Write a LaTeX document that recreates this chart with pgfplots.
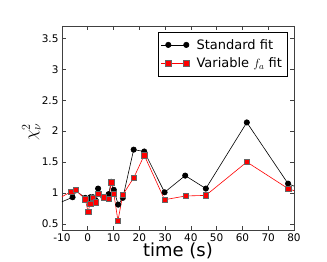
\documentclass[border=0pt]{standalone}
\usepackage{fontspec}
\setmainfont{DejaVu Sans}
\usepackage{pgfplots}
\pgfplotsset{compat=1.18}
\begin{document}
\begin{tikzpicture}
\useasboundingbox (-62pt,-32pt) rectangle (265pt,230pt);
\begin{axis}[
  scale only axis,
  width=232pt, height=204pt,
  xmin=-10, xmax=80, ymin=0.4, ymax=3.7,
  xtick={-10,0,...,80},
  ytick={0.5,1,1.5,2,2.5,3,3.5},
  yticklabels={0.5,1,1.5,2,2.5,3,3.5},
  /pgf/number format/assume math mode=true,
  tick label style={font=\fontsize{10.5}{12}\selectfont},
  tick align=inside,
  major tick length=4pt,
  axis line style={black!75, line width=0.8pt},
  tick style={black!75, line width=0.6pt},
  xlabel={time (s)},
  xlabel style={at={(axis description cs:0.5,0)}, anchor=base, yshift=-27pt, font=\fontsize{18}{20}\selectfont},
  ylabel={$\chi^2_\nu$},
  ylabel style={at={(axis description cs:-0.132,0.48)}, anchor=center, font=\fontsize{17}{20}\selectfont},
  legend style={at={(0.971,0.971)}, anchor=north east, draw=black, line width=0.6pt,
    font=\fontsize{13}{15}\selectfont, row sep=3pt, inner xsep=3pt, inner ysep=5pt,
    /tikz/every odd column/.append style={column sep=5pt}},
  legend cell align=left,
  legend image code/.code={\path (0pt,0pt) -- (28pt,0pt); \draw[#1] plot coordinates {(7pt,0pt) (25pt,0pt)};},
]
\addplot[black, line width=0.6pt, mark=*, mark size=2.7pt, mark options={fill=black, draw=black}] coordinates {
(-14,0.785) (-5.9,0.93) (-4.8,1.04) (-1.0,0.92) (0.1,0.90) (1.0,0.93) (2.0,0.93) (3.0,0.88)
(4.0,1.07) (6.1,0.93) (8.1,0.98) (9.1,1.18) (10.1,1.05) (11.8,0.81) (13.6,0.92)
(17.8,1.70) (21.9,1.67) (29.8,1.01) (37.8,1.28) (45.8,1.07) (61.7,2.14) (77.7,1.15) (84,1.04)
};
\addlegendentry{Standard fit}
\addplot[red, line width=0.6pt, mark=square*, mark size=2.7pt, mark options={fill=red, draw=black!60, line width=0.4pt}] coordinates {
(-14,0.85) (-6.4,1.02) (-4.8,1.05) (-1.0,0.90) (0.1,0.70) (1.0,0.83) (2.0,0.92) (3.0,0.85)
(4.0,0.99) (6.1,0.93) (8.1,0.91) (9.1,1.17) (10.1,0.99) (11.7,0.55) (13.6,0.97)
(17.9,1.25) (21.9,1.61) (29.8,0.89) (37.9,0.95) (45.8,0.96) (61.7,1.50) (77.7,1.07) (84,0.98)
};
\addlegendentry{Variable $f_a$ fit}
\end{axis}
\end{tikzpicture}
\end{document}
